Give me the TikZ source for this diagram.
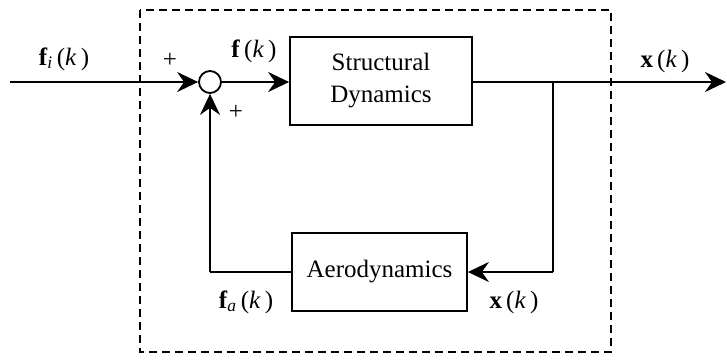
\documentclass[tikz,border=0pt]{standalone}
\usepackage{fontspec}
\setmainfont{Liberation Serif}
\usetikzlibrary{arrows.meta}
\tikzset{
  blk/.style={draw, line width=1.8pt, minimum width=#1, inner sep=0pt, align=center, font=\fontsize{25}{32}\selectfont},
  wire/.style={line width=2pt},
  arr/.style={wire, -{Stealth[length=21pt, width=20pt, inset=7pt]}},
  lbl/.style={font=\fontsize{25}{30}\selectfont, inner sep=0pt},
  dashbox/.style={line width=1.8pt, dash pattern=on 8pt off 5pt}
}
\newcommand{\vb}[1]{\textbf{#1}}
\begin{document}
\begin{tikzpicture}[x=1pt, y=-1pt]
\useasboundingbox (0,0) rectangle (727,360);
\draw[dashbox] (140,10) rectangle (611,352);
\coordinate (in) at (10,82);
\node[draw, circle, line width=1.8pt, minimum size=22pt, inner sep=0pt] (sum) at (210,82) {};
\node[blk=182pt, minimum height=88pt] (sd) at (381,81) {Structural\\Dynamics};
\node[blk=175pt, minimum height=78pt] (ad) at (379.5,272) {Aerodynamics};
\coordinate (br) at (553,82);
\coordinate (out) at (726,82);
\coordinate (bl) at (210,272);
\coordinate (brd) at (553,272);
\draw[arr] (in) -- (sum.west);
\draw[arr] (sum.east) -- (sum.east -| sd.west);
\draw[arr] (sd.east |- br) -- (out);
\draw[wire] (br) -- (brd);
\draw[arr] (brd) -- (ad.east);
\draw[wire] (ad.west) -- (bl);
\draw[arr] (bl) -- (sum.south);
\node[lbl] (lfi) at (64,59) {\vb{f}\textsubscript{\itshape i}\,(\textit{k}\,)};
\node[lbl] (lp1) at (170,60) {+};
\node[lbl] (lf) at (254,51) {\vb{f}\,(\textit{k}\,)};
\node[lbl] (lp2) at (236,112) {+};
\node[lbl] (lx1) at (665,61) {\vb{x}\,(\textit{k}\,)};
\node[lbl] (lfa) at (246,302) {\vb{f}\textsubscript{\itshape a}\,(\textit{k}\,)};
\node[lbl] (lx2) at (514,302) {\vb{x}\,(\textit{k}\,)};
\end{tikzpicture}
\end{document}
